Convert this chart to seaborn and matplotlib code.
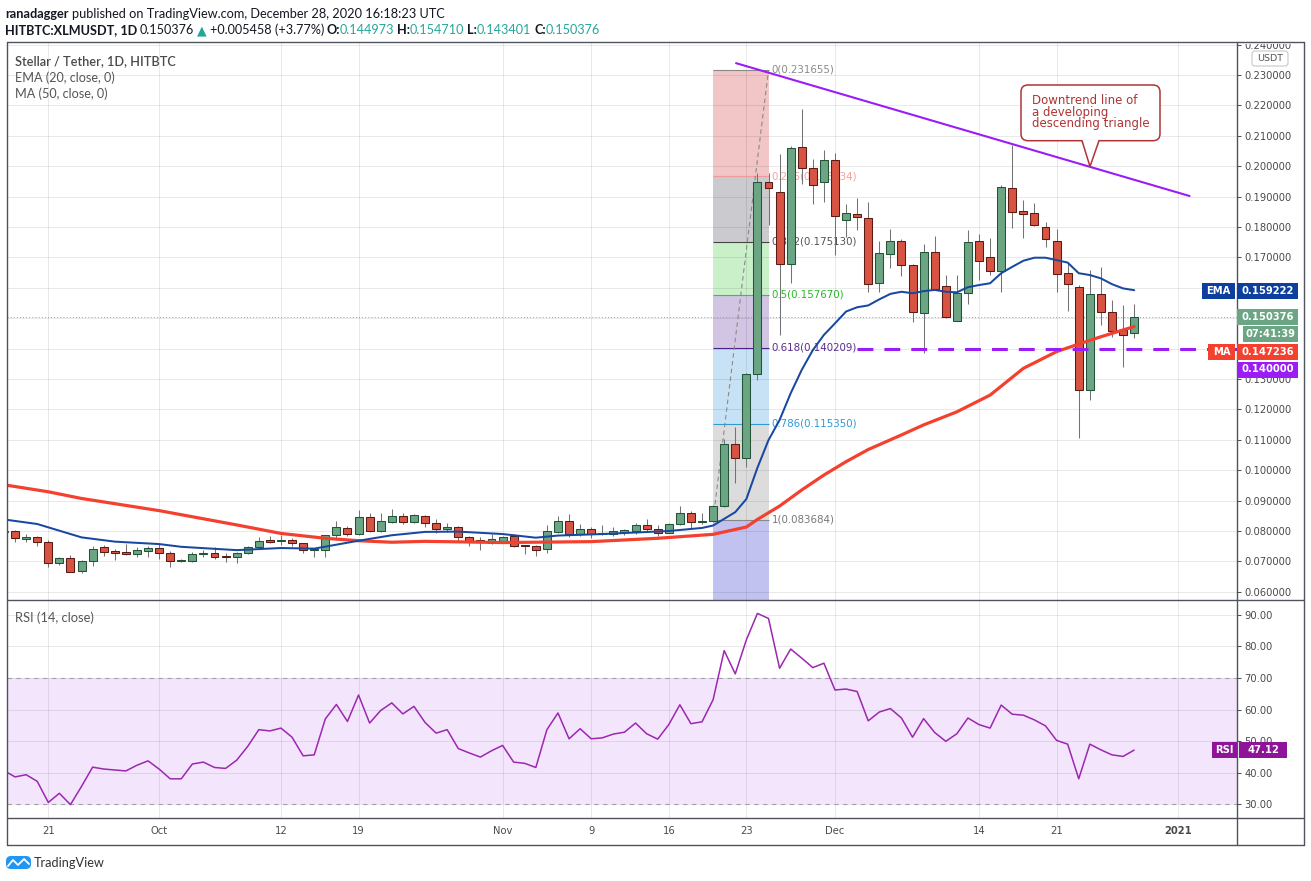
import numpy as np
import pandas as pd
import seaborn as sns
import matplotlib
matplotlib.use("Agg")
import matplotlib.pyplot as plt
from matplotlib import font_manager
from matplotlib.patches import Rectangle, FancyBboxPatch, Polygon
from matplotlib.lines import Line2D
from matplotlib.transforms import Affine2D, Bbox, TransformedBbox
from matplotlib.ticker import FuncFormatter

# ---- values (day 0 = 2020-09-21, daily candles) ----
days = list(range(-4, 99))
opens = [
    .0797, .0799, .0775, .0779,
    .0763, .0694, .0710, .0669, .0700, .0747, .0734, .0731, .0725, .0735,
    .0743, .0727, .0701, .0702, .0724, .0727, .0718, .0716, .0727, .0747,
    .0770, .0766, .0769, .0759, .0737, .0737, .0786, .0809, .0789, .0845,
    .0801, .0830, .0849, .0830, .0849, .0825, .0805, .0812, .0779, .0769,
    .0762, .0768, .0783, .0753, .0749, .0742, .0797, .0834, .0789, .0808,
    .0790, .0790, .0798, .0801, .0819, .0805, .0795, .0823, .0858, .0830,
    .0834, .0882, .1086, .1039, .1316, .1949, .1916, .1678, .2062, .1993,
    .1949, .2020, .1823, .1843, .1829, .1615, .1710, .1754, .1674, .1516,
    .1717, .1606, .1492, .1582, .1754, .1700, .1656, .1927, .1853, .1845,
    .1801, .1755, .1648, .1602, .1264, .1579, .1519, .1460, .144973]
highs = [
    .0805, .0803, .0790, .0783,
    .0770, .0714, .0721, .0705, .0751, .0754, .0740, .0757, .0746, .0751,
    .0757, .0735, .0707, .0730, .0737, .0746, .0727, .0732, .0751, .0779,
    .0784, .0786, .0776, .0762, .0745, .0788, .0834, .0816, .0869, .0860,
    .0860, .0871, .0860, .0856, .0853, .0838, .0825, .0816, .0783, .0779,
    .0790, .0783, .0790, .0754, .0754, .0820, .0849, .0856, .0823, .0814,
    .0819, .0812, .0808, .0825, .0838, .0820, .0825, .0882, .0867, .0860,
    .0884, .1102, .1143, .1320, .1977, .1977, .2039, .2066, .2187, .2023,
    .2053, .2042, .1876, .1894, .1883, .1754, .1793, .1760, .1677, .1744,
    .1770, .1642, .1642, .1790, .1777, .1763, .1938, .2070, .1889, .1878,
    .1817, .1792, .1683, .1609, .1659, .1670, .1560, .1543, .154710]
lows = [
    .0793, .0765, .0765, .0749,
    .0683, .0689, .0664, .0663, .0685, .0718, .0705, .0721, .0716, .0716,
    .0707, .0683, .0699, .0699, .0714, .0707, .0699, .0696, .0725, .0744,
    .0759, .0754, .0751, .0729, .0714, .0716, .0770, .0784, .0788, .0798,
    .0798, .0827, .0823, .0827, .0814, .0792, .0798, .0768, .0749, .0737,
    .0757, .0762, .0746, .0724, .0718, .0727, .0792, .0779, .0783, .0776,
    .0786, .0783, .0786, .0790, .0801, .0782, .0792, .0819, .0809, .0823,
    .0830, .0880, .0957, .1010, .1297, .1807, .1445, .1615, .1941, .1876,
    .1883, .1708, .1768, .1790, .1587, .1587, .1664, .1640, .1489, .1387,
    .1594, .1500, .1492, .1547, .1626, .1642, .1587, .1796, .1763, .1803,
    .1733, .1587, .1525, .1105, .1231, .1478, .1437, .1340, .143401]
closes = [
    .0801, .0776, .0779, .0763,
    .0694, .0710, .0666, .0701, .0740, .0732, .0729, .0724, .0737, .0744,
    .0727, .0702, .0705, .0723, .0729, .0716, .0714, .0727, .0747, .0768,
    .0765, .0770, .0759, .0737, .0740, .0786, .0812, .0789, .0845, .0801,
    .0832, .0849, .0830, .0853, .0825, .0805, .0812, .0779, .0768, .0763,
    .0773, .0779, .0750, .0749, .0737, .0799, .0834, .0790, .0808, .0789,
    .0794, .0799, .0803, .0819, .0805, .0794, .0823, .0858, .0830, .0834,
    .0882, .1086, .1039, .1316, .1947, .1927, .1678, .2059, .1993, .1937,
    .2020, .1836, .1847, .1832, .1612, .1713, .1754, .1674, .1519, .1717,
    .1595, .1505, .1584, .1750, .1689, .1656, .1931, .1848, .1843, .1807,
    .1761, .1645, .1612, .1264, .1579, .1520, .1458, .1445, .150376]

ema_days = [-4, -1, 0, 3, 6, 10, 12, 17, 21, 24, 26, 28, 31, 34, 37, 41, 44, 46, 50, 56,
            59, 60, 61, 62, 63, 64, 65, 66, 67, 68, 69, 70, 71, 72, 73, 74, 75, 76, 77, 78,
            79, 80, 81, 82, 83, 84, 85, 86, 87, 88, 89, 90, 91, 92, 93, 94, 95, 96, 97, 98]
ema_vals = [0.0838, 0.0823, 0.0812, 0.0779, 0.0765, 0.0757, 0.0748, 0.0737, 0.0744, 0.0742,
            0.0755, 0.0768, 0.0786, 0.0797, 0.0798, 0.0790, 0.0778, 0.0785, 0.0790, 0.0800,
            0.0810, 0.0818, 0.0840, 0.0862, 0.0905, 0.1008, 0.1099, 0.1165, 0.1253, 0.1330,
            0.1395, 0.1445, 0.1483, 0.1522, 0.1536, 0.1542, 0.1562, 0.1580, 0.1587, 0.1582,
            0.1589, 0.1593, 0.1587, 0.1585, 0.1602, 0.1609, 0.1615, 0.1648, 0.1669, 0.1689,
            0.1699, 0.1699, 0.1691, 0.1683, 0.1648, 0.1642, 0.1631, 0.1612, 0.1598, 0.159222]

ma_days = [-4, 0, 3, 10, 17, 21, 25, 28, 31, 34, 41, 49, 55, 60, 63,
           64, 66, 68, 70, 72, 74, 77, 79, 82, 85, 88, 91, 93, 95, 98]
ma_vals = [0.0952, 0.0929, 0.0907, 0.0867, 0.0820, 0.0792, 0.0776, 0.0768, 0.0763, 0.0766,
           0.0762, 0.0765, 0.0776, 0.0789, 0.0813, 0.0838, 0.0882, 0.0935, 0.0984, 0.1028,
           0.1068, 0.1116, 0.1149, 0.1192, 0.1247, 0.1335, 0.1390, 0.1415, 0.1439, 0.147236]

rsi = [40.6, 38.6, 39.3, 37.2,
       30.5, 33.4, 29.8, 35.6, 41.7, 41.1, 40.8, 40.5, 42.3, 43.7,
       41.1, 38.0, 38.0, 42.7, 43.3, 41.6, 41.3, 43.9, 48.3, 53.6,
       53.2, 54.1, 51.2, 45.3, 45.6, 57.0, 61.6, 56.2, 64.6, 55.7,
       59.7, 62.1, 58.6, 61.0, 55.9, 52.5, 53.6, 47.6, 46.2, 44.9,
       46.9, 48.6, 43.3, 42.9, 41.6, 53.6, 58.9, 50.7, 53.9, 50.7,
       51.0, 52.2, 52.8, 55.7, 52.3, 50.6, 55.2, 61.5, 55.5, 56.1,
       63.1, 78.7, 71.3, 82.1, 90.5, 88.9, 73.1, 79.2, 76.3, 73.3,
       74.7, 66.2, 66.5, 65.7, 56.4, 59.2, 60.3, 57.3, 51.2, 57.1,
       52.7, 49.9, 52.3, 57.3, 55.2, 54.1, 61.4, 58.5, 58.2, 56.7,
       54.8, 50.2, 49.0, 38.0, 49.0, 47.2, 45.6, 45.1, 47.12]

fib_days = [60, 65]
fib_levels = [0, 0.236, 0.382, 0.5, 0.618, 0.786, 1]
fib_prices = [0.231655, 0.196734, 0.175130, 0.157670, 0.140209, 0.115350, 0.083684]
trend_days = [62.07, 103.0]
trend_prices = [0.2339, 0.1902]
support_price = 0.14
support_start = 73

tick_days = [0, 10, 21, 28, 41, 49, 56, 63, 71, 84, 91, 102]
tick_labels = ["21", "Oct", "12", "19", "Nov", "9", "16", "23", "Dec", "14", "21", "2021"]
price_ticks = np.round(np.arange(0.06, 0.2401, 0.01), 2)
hidden_price_ticks = [0.14, 0.15, 0.16]   # covered by the value tags on the scale
rsi_ticks = [30, 40, 50, 60, 70, 80, 90]

# ---- colours ----
GREEN, GREEN_E = "#6ba583", "#225437"
RED, RED_E = "#d75442", "#5b1a13"
WICK = "#737375"
EMA_C, MA_C = "#1848a0", "#f4402f"
PURPLE = "#9b1cf5"
RSI_C = "#9c27b0"
FRAME = "#50535e"
AXT = "#4a4a4a"
zone_cols = ["#f2c5c6", "#cbcacf", "#c9f0c9", "#d2c5e4", "#c6e2f4", "#dcdcdc"]
below_col = "#c2c2f1"
level_cols = ["#888888", "#f19a9a", "#444444", "#2ecc2e", "#4d1f8c", "#2a9ad8", "#888888"]
label_cols = ["#8a8a8a", "#f3a0a0", "#555555", "#22bb22", "#5a2d8f", "#2d9ad6", "#777777"]

sns.set_style("white")
installed = {f.name for f in font_manager.fontManager.ttflist}
UI = "Lato" if "Lato" in installed else "DejaVu Sans"
plt.rcParams["font.family"] = [UI, "DejaVu Sans"]

W, H = 1311, 881
PX_DAY, X_DAY0 = 11.08, 48.3
fig = plt.figure(figsize=(W / 100, H / 100), dpi=100)
pix = Affine2D().scale(1 / W, -1 / H).translate(0, 1) + fig.transFigure
R = fig.canvas.get_renderer()


def pane(x0, y0, x1, y1):
    a = fig.add_axes([x0 / W, 1 - y1 / H, (x1 - x0) / W, (y1 - y0) / H])
    for s in a.spines.values():
        s.set_visible(False)
    return a


ax = pane(7, 42, 1237, 600)
axr = pane(7, 600, 1237, 818)
xlim = ((7 - X_DAY0) / PX_DAY, (1237 - X_DAY0) / PX_DAY)

# ---- price pane ----
df = pd.DataFrame({"day": days, "open": opens, "high": highs, "low": lows, "close": closes})
up = df["close"] >= df["open"]
ax.vlines(df["day"], df["low"], df["high"], color=WICK, lw=0.75, zorder=2)
for mask, fc, ec in [(up, GREEN, GREEN_E), (~up, RED, RED_E)]:
    sub = df[mask]
    ax.bar(sub["day"], (sub["close"] - sub["open"]).abs().clip(lower=8e-5),
           bottom=sub[["open", "close"]].min(axis=1), width=0.72,
           color=fc, edgecolor=ec, linewidth=0.75, zorder=3)

sns.lineplot(x=ma_days, y=ma_vals, ax=ax, color=MA_C, linewidth=2.3, zorder=4)
sns.lineplot(x=ema_days, y=ema_vals, ax=ax, color=EMA_C, linewidth=1.45, zorder=4)

# fibonacci retracement
for i in range(6):
    ax.fill_between(fib_days, fib_prices[i + 1], fib_prices[i], color=zone_cols[i], lw=0, zorder=0.3)
ax.fill_between(fib_days, 0.0, fib_prices[-1], color=below_col, lw=0, zorder=0.3)
ax.hlines(fib_prices, fib_days[0], fib_days[1], colors=level_cols, lw=0.8, zorder=1)
for lv, pr, c in zip(fib_levels, fib_prices, label_cols):
    ax.text(fib_days[1] + 0.3, pr, f"{lv:g}({pr:.6f})", color=c, fontsize=7.4,
            family="DejaVu Sans", va="center", ha="left", zorder=1.5)
ax.plot(fib_days, [fib_prices[-1], fib_prices[0]], color="#8a8a8a", lw=0.8,
        ls=(0, (4, 3)), zorder=1.6)

ax.plot(trend_days, trend_prices, color=PURPLE, lw=1.5, zorder=5)
ax.hlines(support_price, support_start, xlim[1], color=PURPLE, lw=2.2,
          linestyles=(0, (5.2, 3.6)), zorder=5)
ax.axhline(closes[-1], color="#7fae98", lw=0.7, ls=(0, (1, 2.2)), zorder=1.7)

ax.set_xlim(*xlim)
ax.set_ylim(0.0573, 0.24086)
ax.set_xticks(tick_days)
ax.set_yticks(price_ticks)
ax.yaxis.tick_right()
ax.yaxis.set_major_formatter(FuncFormatter(
    lambda v, _: "" if any(abs(v - h) < 1e-6 for h in hidden_price_ticks) else f"{v:.6f}"))
ax.tick_params(axis="x", length=0, labelbottom=False)
ax.tick_params(axis="y", direction="out", length=3, width=0.75, color=FRAME, pad=2.5,
               labelsize=7.2, labelcolor=AXT, labelfontfamily="DejaVu Sans")
ax.grid(True, color="black", alpha=0.085, lw=0.75)
ax.set_axisbelow(True)
ax.set(xlabel="", ylabel="")
cb = TransformedBbox(Bbox([[0, 0], [1, 1 - 43.5 / H]]), fig.transFigure)
for t in ax.yaxis.get_major_ticks():
    t.label2.set_clip_box(cb)
    t.label2.set_clip_on(True)

# ---- RSI pane ----
axr.axhspan(30, 70, color="#f3e6fc", lw=0, zorder=0)
for lvl in (30, 70):
    axr.axhline(lvl, color="#a0a0a8", lw=0.8, ls=(0, (4, 4)), zorder=1)
sns.lineplot(x=days, y=rsi, ax=axr, color=RSI_C, linewidth=1.1, zorder=3)
axr.set_xlim(*xlim)
axr.set_ylim(25.56, 94.76)
axr.set_yticks(rsi_ticks)
axr.yaxis.tick_right()
axr.yaxis.set_major_formatter(FuncFormatter(lambda v, _: f"{v:.2f}"))
axr.set_xticks(tick_days)
axr.set_xticklabels(tick_labels)
axr.tick_params(axis="both", direction="out", length=3, width=0.75, color=FRAME,
                labelsize=7.2, labelcolor=AXT, labelfontfamily="DejaVu Sans")
axr.tick_params(axis="x", pad=3)
axr.tick_params(axis="y", pad=2.5)
axr.get_xticklabels()[-1].set_fontweight("bold")
axr.grid(True, color="black", alpha=0.085, lw=0.75)
axr.set_axisbelow(True)
axr.set(xlabel="", ylabel="")

# ---- frame ----
for (x0, y0), (x1, y1) in [((7, 42), (1304, 42)), ((7, 42), (7, 845)), ((1304, 42), (1304, 845)),
                           ((7, 845), (1304, 845)), ((1237, 42), (1237, 845)),
                           ((7, 600), (1304, 600)), ((7, 818), (1304, 818))]:
    fig.add_artist(Line2D([x0, x1], [y0, y1], transform=pix, color=FRAME, lw=1.0, zorder=4))


# ---- texts ----
def run_text(x, y, parts, total_w, family, base=10, zorder=8):
    """Lay out coloured pieces of one line; a leading space in a piece becomes a gap."""
    ts, ws, lead = [], [], []
    for s, c, w in parts:
        lead.append(s.startswith(" "))
        t = fig.text(0, 0, s.lstrip(), transform=pix, fontsize=base, color=c, weight=w,
                     family=family, va="baseline", ha="left", zorder=zorder)
        ts.append(t)
        ws.append(t.get_window_extent(R).width)
    probe = fig.text(0, 0, "a a", fontsize=base, family=family)
    probe2 = fig.text(0, 0, "aa", fontsize=base, family=family)
    space = probe.get_window_extent(R).width - probe2.get_window_extent(R).width
    probe.remove()
    probe2.remove()
    k = total_w / (sum(ws) + space * sum(lead))
    for t, w, ld in zip(ts, ws, lead):
        if ld:
            x += space * k
        t.set_fontsize(base * k)
        t.set_position((x, y))
        x += w * k
    return base * k


DARK, TEAL = "#131722", "#26a69a"
fam = [UI, "DejaVu Sans"]
run_text(5, 17.5, [("ranadagger", DARK, "bold"),
                   (" published on TradingView.com, December 28, 2020 16:18:23 UTC", DARK, "normal")],
         442, fam)
run_text(5, 34, [("HITBTC:XLMUSDT, 1D", DARK, "bold"), (" 0.150376", DARK, "normal"),
                 (" ▲", TEAL, "normal"), (" +0.005458 (+3.77%)", DARK, "normal"),
                 (" O:", DARK, "bold"), ("0.144973", TEAL, "normal"),
                 (" H:", DARK, "bold"), ("0.154710", TEAL, "normal"),
                 (" L:", DARK, "bold"), ("0.143401", TEAL, "normal"),
                 (" C:", DARK, "bold"), ("0.150376", TEAL, "normal")], 595, fam)
run_text(15, 65, [("Stellar / Tether, 1D, HITBTC", "#4a4a4a", "semibold")], 160, fam)
s_ema = run_text(15, 82.5, [("EMA (20, close, 0)", "#555555", "normal")], 100, fam)
fig.text(15, 98.5, "MA (50, close, 0)", transform=pix, fontsize=s_ema, color="#555555",
         family=fam, va="baseline", zorder=8)
run_text(15, 622.5, [("RSI (14, close)", "#555555", "normal")], 78.5, fam)
run_text(34, 867, [("TradingView", "#333333", "normal")], 71, fam)

# TradingView logo
fig.add_artist(FancyBboxPatch((6, 856), 25, 13, boxstyle="round,pad=0,rounding_size=5",
                              transform=pix, fc="#2196f3", ec="none", zorder=5))
fig.add_artist(Line2D([8, 13, 18, 24, 29], [866, 860, 865, 859, 864], transform=pix,
                      color="white", lw=1.3, zorder=6))

# callout
CALL = "#ad3535"
fig.add_artist(FancyBboxPatch((1021, 85), 139, 55.7, boxstyle="round,pad=0,rounding_size=7",
                              transform=pix, fc="white", ec=CALL, lw=1.1, zorder=5))
fig.add_artist(Polygon([(1082, 139.8), (1090, 166.5), (1099, 139.8)], closed=True,
                       transform=pix, fc="white", ec="none", zorder=6))
fig.add_artist(Line2D([1082, 1090, 1099], [140.7, 166.5, 140.7], transform=pix,
                      color=CALL, lw=1.1, zorder=7))
s_call = run_text(1032, 127.3, [("descending triangle", CALL, "normal")], 117, "DejaVu Sans")
for s, y in [("Downtrend line of", 104), ("a developing", 115.7)]:
    fig.text(1032, y, s, transform=pix, fontsize=s_call, color=CALL, family="DejaVu Sans",
             va="baseline", zorder=8)


# price-scale tags
def tag(x0, x1, yc, fc, s, h=16):
    fig.add_artist(Rectangle((x0, yc - h / 2), x1 - x0, h, transform=pix, fc=fc, ec="none", zorder=5))
    fig.text((x0 + x1) / 2, yc, s, transform=pix, ha="center", va="center", color="white",
             fontsize=7.2, weight="bold", family="DejaVu Sans", zorder=6)


EMA_BOX, MA_BOX, RSI_BOX = "#0d3f9e", "#f4402f", "#8e1599"
tag(1202, 1235, 290.5, EMA_BOX, "EMA")
tag(1237, 1298, 290.5, EMA_BOX, f"{ema_vals[-1]:.6f}")
tag(1237, 1298, 317, GREEN, f"{closes[-1]:.6f}")
tag(1243, 1298, 334, GREEN, "07:41:39")
tag(1208, 1235, 352, MA_BOX, "MA")
tag(1237, 1298, 352, MA_BOX, f"{ma_vals[-1]:.6f}")
tag(1237, 1298, 369.5, PURPLE, f"{support_price:.6f}")
tag(1212, 1237, 750, RSI_BOX, "RSI")
tag(1239, 1287, 750, RSI_BOX, f"{rsi[-1]:.2f}")

fig.add_artist(FancyBboxPatch((1252, 51), 36, 15, boxstyle="round,pad=0,rounding_size=3",
                              transform=pix, fc="white", ec="#c8c8c8", lw=0.8, zorder=5))
fig.text(1270, 58.5, "USDT", transform=pix, ha="center", va="center", fontsize=6.8,
         color="#555555", family="DejaVu Sans", zorder=6)

fig.savefig("out.png", dpi=100)
